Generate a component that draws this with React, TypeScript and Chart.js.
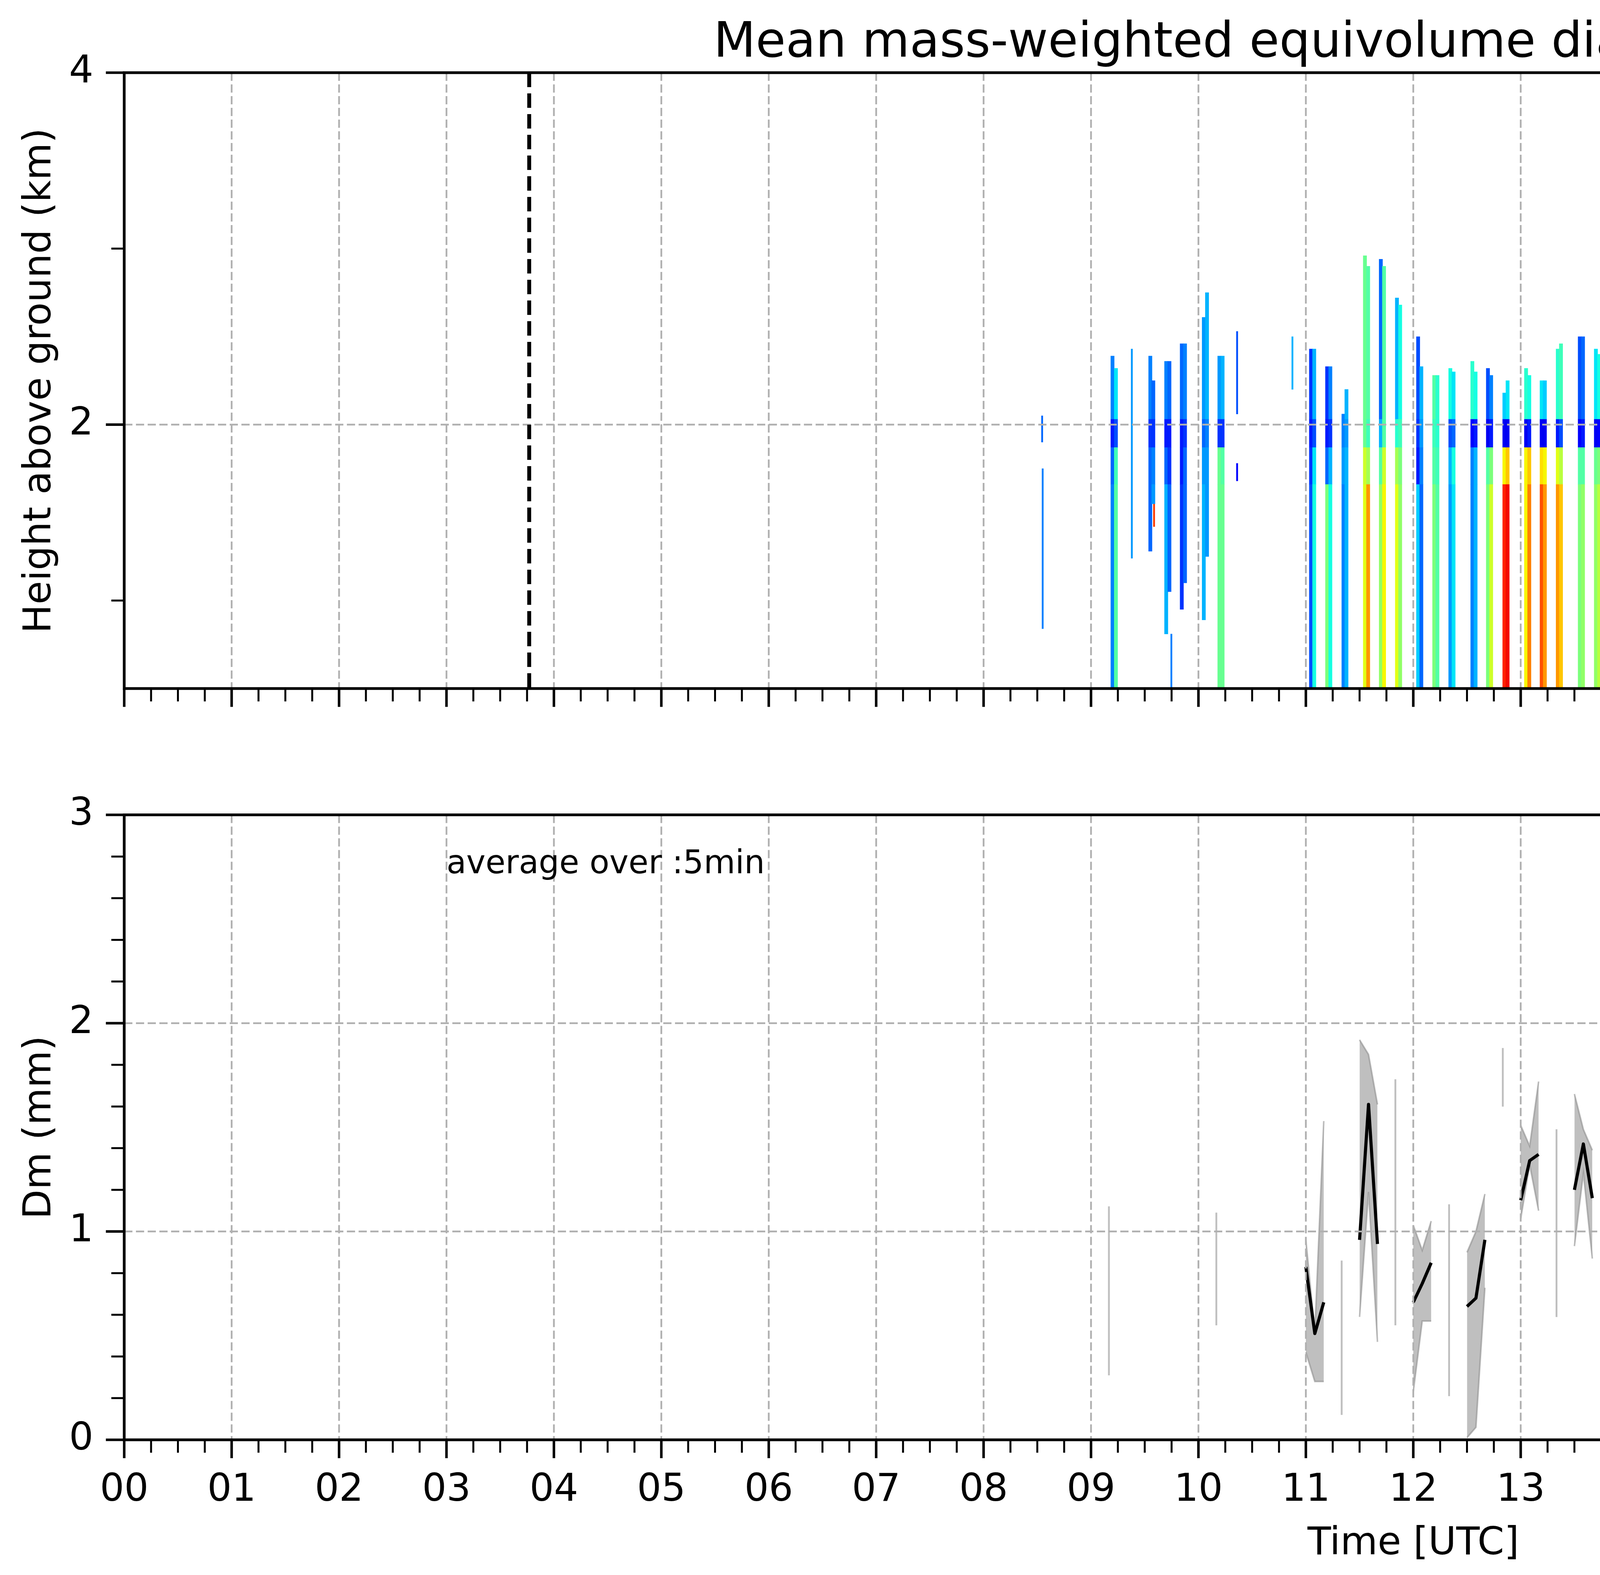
import React, { useEffect, useRef } from 'react';
import { Chart, registerables } from 'chart.js';

Chart.register(...registerables);

const FONT = 'DejaVu Sans';
const W = 7442;
const H = 4031;
const PLOT_LEFT = 318;
const PLOT_RIGHT = 6918;
const TOP_H = 1900;
const BOT_H = H - TOP_H;

// ---------------- data ----------------
const chartTitle = 'Mean mass-weighted equivolume diameter on 20250730';
const hourLabels = ['00', '01', '02', '03', '04', '05', '06', '07', '08', '09', '10', '11',
  '12', '13', '14', '15', '16', '17', '18', '19', '20', '21', '22', '23'];
const heightTicks = [2, 4];
const heightMinorTicks = [1, 3];
const dmTicks = [0, 1, 2, 3];
const cbarTicks = [0, 0.4, 0.8, 1.2, 1.6, 2.0];
const DM_MAX = 2.0;
const HEIGHT_MIN = 0.5;
const HEIGHT_MAX = 4;
const DM_AXIS_MAX = 3;

// dashed black markers (UTC hours) and shaded period
const dayMarkers = [3.77, 18.88];
const shadeStart = 15.39;
const shadeEnd = 24;

// layer boundaries inside each profile column (km)
const MELT_TOP = 2.03;
const MELT_BOTTOM = 1.87;
const TRANS_BOTTOM = 1.66;

// profile columns (time in UTC hours)
const colTime = [
  9.200, 9.232, 9.552, 9.580, 9.700, 9.730, 9.845, 9.875, 10.050, 10.080,
  10.195, 10.225, 11.048, 11.078, 11.198, 11.228, 11.350, 11.378, 11.550, 11.580,
  11.698, 11.728, 11.848, 11.878, 12.045, 12.075, 12.195, 12.225, 12.345, 12.375,
  12.550, 12.580, 12.695, 12.725, 12.848, 12.878, 13.050, 13.080, 13.195, 13.225,
  13.345, 13.375, 13.550, 13.580, 13.700, 13.730, 13.845, 13.875, 14.070, 14.350,
  14.380, 14.555, 14.585, 14.695, 14.725, 14.850, 14.880, 15.055, 15.085, 15.225];
const colTop = [
  2.39, 2.32, 2.39, 2.25, 2.36, 2.36, 2.46, 2.46, 2.61, 2.75,
  2.39, 2.39, 2.43, 2.43, 2.33, 2.33, 2.06, 2.20, 2.96, 2.90,
  2.94, 2.90, 2.72, 2.68, 2.50, 2.33, 2.28, 2.28, 2.32, 2.30,
  2.36, 2.30, 2.32, 2.28, 2.18, 2.25, 2.32, 2.28, 2.25, 2.25,
  2.43, 2.46, 2.50, 2.50, 2.43, 2.40, 2.61, 2.55, 1.78, 2.61,
  2.55, 2.53, 2.61, 2.65, 2.75, 2.68, 2.60, 2.86, 2.57, 2.43];
const colBottom = [
  0.50, 0.50, 1.28, 1.55, 0.81, 1.05, 0.95, 1.10, 0.89, 1.25,
  0.50, 0.50, 0.50, 0.50, 0.50, 0.50, 0.50, 0.50, 0.50, 0.50,
  0.50, 0.50, 0.50, 0.50, 0.50, 0.50, 0.50, 0.50, 0.50, 0.50,
  0.50, 0.50, 0.50, 0.50, 0.50, 0.50, 0.50, 0.50, 0.50, 0.50,
  0.50, 0.50, 0.50, 0.50, 0.50, 0.50, 1.28, 0.84, 0.84, 0.50,
  0.50, 0.50, 0.50, 0.50, 0.50, 0.50, 0.50, 0.50, 1.30, 2.14];
const colDmUpper = [
  0.50, 0.70, 0.50, 0.45, 0.50, 0.45, 0.45, 0.50, 0.55, 0.60,
  0.55, 0.60, 0.35, 0.60, 0.35, 0.50, 0.50, 0.60, 0.95, 0.90,
  0.45, 0.90, 0.60, 0.75, 0.40, 0.60, 0.90, 0.80, 0.75, 0.70,
  0.80, 0.75, 0.40, 0.50, 0.65, 0.70, 0.80, 0.75, 0.70, 0.65,
  0.80, 0.85, 0.40, 0.45, 0.70, 0.75, 0.35, 0.45, null, 0.35,
  0.50, 0.65, 0.60, 0.55, 0.60, 0.65, 0.70, 0.60, 0.45, 0.45];
const colDmMelt = [
  0.30, 0.40, 0.35, 0.35, 0.30, 0.30, 0.30, 0.35, 0.45, 0.50,
  0.35, 0.35, 0.30, 0.40, 0.30, 0.35, 0.50, 0.55, 0.95, 0.85,
  0.60, 0.90, 0.80, 0.85, 0.35, 0.55, 0.85, 0.80, 0.40, 0.45,
  0.25, 0.30, 0.20, 0.30, 0.20, 0.20, 0.20, 0.30, 0.20, 0.20,
  0.30, 0.40, 0.25, 0.30, 0.20, 0.25, 0.25, 0.30, null, 0.25,
  0.30, 0.60, 0.65, 0.30, 0.35, 0.45, 0.50, 0.40, 0.30, null];
const colDmTrans = [
  0.45, 0.85, 0.45, 0.50, 0.45, 0.35, 0.30, 0.45, 0.55, 0.55,
  0.95, 0.90, 0.35, 0.70, 0.45, 0.60, 0.55, 0.60, 1.20, 1.10,
  0.90, 1.20, 1.10, 1.00, 0.30, 0.50, 0.90, 0.85, 0.60, 0.75,
  0.50, 0.60, 0.90, 1.00, 1.30, 1.40, 1.30, 1.40, 1.35, 1.30,
  1.25, 1.15, 0.90, 0.90, 0.95, 1.00, 0.35, 0.45, 0.40, 0.35,
  0.45, 0.70, 0.75, 0.40, 0.50, 0.85, 0.90, 0.45, 0.40, null];
const colDmLower = [
  0.50, 0.90, 0.45, 0.55, 0.60, 0.45, 0.35, 0.45, 0.60, 0.55,
  0.95, 0.95, 0.40, 0.75, 1.00, 0.75, 0.50, 0.60, 1.25, 1.50,
  1.05, 1.30, 1.25, 1.05, 0.65, 0.45, 1.00, 0.90, 0.55, 0.70,
  0.50, 0.60, 1.00, 1.20, 1.75, 1.80, 1.30, 1.55, 1.65, 1.50,
  1.50, 1.40, 1.00, 1.05, 1.05, 1.15, 0.40, 0.50, 0.40, 0.40,
  0.35, 0.75, 0.80, 0.45, 0.50, 0.90, 1.15, 0.50, 0.45, null];

// thin isolated returns
const fleckTime = [8.545, 8.550, 9.380, 9.587, 9.748, 10.360, 10.360, 10.875, 14.060, 14.080, 14.210, 14.350, 15.200, 15.200];
const fleckBottom = [1.90, 0.84, 1.24, 1.42, 0.50, 2.06, 1.68, 2.20, 2.18, 0.50, 2.22, 0.50, 1.31, 0.50];
const fleckTop = [2.05, 1.75, 2.43, 1.73, 0.81, 2.53, 1.78, 2.50, 2.75, 0.68, 2.64, 0.70, 2.79, 1.89];
const fleckDm = [0.45, 0.50, 0.55, 1.70, 0.50, 0.40, 0.25, 0.60, 0.55, 0.05, 0.45, 0.05, 0.55, 0.45];

// 5-minute averages (lower panel)
const avgTime = ['09:10', '10:10', '11:00', '11:05', '11:10', '11:20', '11:30', '11:35', '11:40', '11:50',
  '12:00', '12:05', '12:10', '12:20', '12:30', '12:35', '12:40', '12:50', '13:00', '13:05',
  '13:10', '13:20', '13:30', '13:35', '13:40', '14:00', '14:05', '14:20', '14:30', '14:35',
  '14:40', '14:50', '15:00', '15:05', '15:10'];
const avgMean = [null, null, 0.83, 0.51, 0.66, null, 0.96, 1.61, 0.94, null,
  0.66, 0.75, 0.85, null, 0.64, 0.68, 0.96, null, 1.15, 1.34,
  1.37, null, 1.20, 1.42, 1.16, 0.61, 0.47, null, 0.75, 0.82,
  0.61, null, 0.56, 0.70, 0.85];
const avgMin = [0.31, 0.55, 0.42, 0.28, 0.28, 0.12, 0.59, 1.19, 0.47, 0.55,
  0.23, 0.57, 0.57, 0.21, 0.01, 0.06, 0.73, 1.60, 1.06, 1.32,
  1.10, 0.59, 0.93, 1.28, 0.87, 0.61, 0.09, 0.00, 0.56, 0.71,
  0.41, 0.68, 0.28, 0.44, 0.85];
const avgMax = [1.12, 1.09, 0.96, 0.52, 1.53, 0.86, 1.92, 1.85, 1.61, 1.73,
  1.03, 0.91, 1.05, 1.13, 0.90, 1.00, 1.18, 1.88, 1.51, 1.41,
  1.72, 1.49, 1.66, 1.49, 1.39, 0.64, 0.67, 0.99, 1.06, 1.19,
  1.09, 1.33, 0.76, 0.89, 0.89];
const avgNote = 'average over :5min';
const avgNoteX = 3.0;
const avgNoteY = 2.72;

// ---------------- helpers ----------------
function jet(v: number): string {
  const t = Math.min(1, Math.max(0, v));
  const r = t < 0.35 ? 0 : t < 0.66 ? (t - 0.35) / 0.31 : t < 0.89 ? 1 : 1 - (0.5 * (t - 0.89)) / 0.11;
  const g = t < 0.125 ? 0 : t < 0.375 ? (t - 0.125) / 0.25 : t < 0.64 ? 1 : t < 0.91 ? 1 - (t - 0.64) / 0.27 : 0;
  const b = t < 0.11 ? 0.5 + (0.5 * t) / 0.11 : t < 0.34 ? 1 : t < 0.65 ? 1 - (t - 0.34) / 0.31 : 0;
  return `rgb(${Math.round(r * 255)},${Math.round(g * 255)},${Math.round(b * 255)})`;
}

function columnSegments() {
  const segs: any[] = [];
  colTime.forEach((t, i) => {
    const top = colTop[i];
    const bot = colBottom[i];
    const layers: [number, number, number | null][] = [
      [MELT_TOP, top, colDmUpper[i]],
      [MELT_BOTTOM, MELT_TOP, colDmMelt[i]],
      [TRANS_BOTTOM, MELT_BOTTOM, colDmTrans[i]],
      [bot, TRANS_BOTTOM, colDmLower[i]],
    ];
    layers.forEach(([lo, hi, dm]) => {
      const a = Math.max(lo, bot);
      const b = Math.min(hi, top);
      if (b > a && dm != null) segs.push({ x: t, y: [a, b], dm });
    });
  });
  return segs;
}

function fleckSegments() {
  return fleckTime.map((t, i) => ({ x: t, y: [fleckBottom[i], fleckTop[i]], dm: fleckDm[i] }));
}

const avgHours = avgTime.map((s) => {
  const [h, m] = s.split(':').map(Number);
  return h + m / 60;
});

function withBreaks(vals: (number | null)[]) {
  const pts: any[] = [];
  avgHours.forEach((t, i) => {
    if (i > 0 && t - avgHours[i - 1] > 0.1) pts.push({ x: (t + avgHours[i - 1]) / 2, y: null });
    pts.push({ x: t, y: vals[i] });
  });
  return pts;
}

function isolatedRanges() {
  const out: any[] = [];
  avgHours.forEach((t, i) => {
    const prevGap = i === 0 ? Infinity : t - avgHours[i - 1];
    const nextGap = i === avgHours.length - 1 ? Infinity : avgHours[i + 1] - t;
    if (prevGap > 0.1 && nextGap > 0.1) out.push({ x: t, y: [avgMin[i], avgMax[i]] });
  });
  return out;
}

const hourValues = hourLabels.map((_, i) => i);
const xMajorTicks = [...hourValues, 24];
const xMinorTicks: number[] = [];
for (let q = 1; q < 96; q++) if (q % 4 !== 0) xMinorTicks.push(q / 4);
const dmMinorTicks: number[] = [];
for (let k = 1; k < 15; k++) if (k % 5 !== 0) dmMinorTicks.push(k / 5);

function line(ctx: CanvasRenderingContext2D, x0: number, y0: number, x1: number, y1: number) {
  ctx.beginPath();
  ctx.moveTo(x0, y0);
  ctx.lineTo(x1, y1);
  ctx.stroke();
}

const framePlugin = {
  id: 'frame',
  beforeDatasetsDraw(chart: any, _a: any, o: any) {
    if (!o || !o.shade) return;
    const { ctx, chartArea: ca, scales } = chart;
    const x0 = scales.x.getPixelForValue(o.shade[0]);
    const x1 = scales.x.getPixelForValue(o.shade[1]);
    ctx.save();
    ctx.fillStyle = '#d9d9d9';
    ctx.fillRect(x0, ca.top, x1 - x0, ca.bottom - ca.top);
    ctx.restore();
  },
  afterDatasetsDraw(chart: any, _a: any, o: any) {
    if (!o) return;
    const { ctx, chartArea: ca, scales } = chart;
    const xs = scales.x;
    const ys = scales.y;
    ctx.save();
    ctx.beginPath();
    ctx.rect(ca.left, ca.top, ca.right - ca.left, ca.bottom - ca.top);
    ctx.clip();
    ctx.strokeStyle = '#b0b0b0';
    ctx.lineWidth = 4.5;
    ctx.setLineDash([21, 9]);
    (o.gridX || []).forEach((v: number) => {
      const p = xs.getPixelForValue(v);
      line(ctx, p, ca.top, p, ca.bottom);
    });
    (o.gridY || []).forEach((v: number) => {
      const p = ys.getPixelForValue(v);
      line(ctx, ca.left, p, ca.right, p);
    });
    if (o.markers) {
      ctx.strokeStyle = '#000';
      ctx.lineWidth = 10;
      ctx.setLineDash([37, 16]);
      o.markers.forEach((v: number) => {
        const p = xs.getPixelForValue(v);
        line(ctx, p, ca.top, p, ca.bottom);
      });
    }
    ctx.restore();

    ctx.save();
    ctx.setLineDash([]);
    ctx.strokeStyle = '#000';
    ctx.lineWidth = 7;
    ctx.strokeRect(ca.left, ca.top, ca.right - ca.left, ca.bottom - ca.top);
    // x ticks
    ctx.lineWidth = 6.5;
    xMajorTicks.forEach((v) => {
      const p = xs.getPixelForValue(v);
      line(ctx, p, ca.bottom, p, ca.bottom + 47);
    });
    ctx.lineWidth = 5;
    xMinorTicks.forEach((v) => {
      const p = xs.getPixelForValue(v);
      line(ctx, p, ca.bottom, p, ca.bottom + 33);
    });
    // y ticks
    ctx.lineWidth = 6.5;
    (o.yMajor || []).forEach((v: number) => {
      const p = ys.getPixelForValue(v);
      line(ctx, ca.left - 47, p, ca.left, p);
    });
    ctx.lineWidth = 5;
    (o.yMinor || []).forEach((v: number) => {
      const p = ys.getPixelForValue(v);
      line(ctx, ca.left - 33, p, ca.left, p);
    });
    ctx.fillStyle = '#000';
    if (o.title) {
      ctx.font = `125px "${FONT}"`;
      ctx.textAlign = 'center';
      ctx.textBaseline = 'alphabetic';
      ctx.fillText(o.title, (ca.left + ca.right) / 2, 145);
    }
    if (o.note) {
      ctx.font = `83px "${FONT}"`;
      ctx.textAlign = 'left';
      ctx.textBaseline = 'alphabetic';
      ctx.fillText(o.note.text, xs.getPixelForValue(o.note.x), ys.getPixelForValue(o.note.y));
    }
    ctx.restore();
  },
};

const cbarPlugin = {
  id: 'cbar',
  afterDraw(chart: any, _a: any, o: any) {
    if (!o || !o.label) return;
    const { ctx, chartArea: ca } = chart;
    ctx.save();
    ctx.strokeStyle = '#000';
    ctx.lineWidth = 5;
    ctx.strokeRect(ca.left, ca.top, ca.right - ca.left, ca.bottom - ca.top);
    ctx.fillStyle = '#000';
    ctx.font = `80px "${FONT}"`;
    ctx.translate(447, (ca.top + ca.bottom) / 2);
    ctx.rotate(-Math.PI / 2);
    ctx.textAlign = 'center';
    ctx.textBaseline = 'middle';
    ctx.fillText(o.label, 0, 0);
    ctx.restore();
  },
};

const hiddenGrid = { display: false, drawTicks: false };
const tickFont = { family: FONT, size: 98 };

function topConfig(): any {
  const color = (c: any) => (c.raw ? jet(c.raw.dm / DM_MAX) : '#000');
  return {
    type: 'bar',
    data: {
      datasets: [
        { data: columnSegments(), backgroundColor: color, barThickness: 9, grouped: false, borderWidth: 0, borderSkipped: false },
        { data: fleckSegments(), backgroundColor: color, barThickness: 4, grouped: false, borderWidth: 0, borderSkipped: false },
      ],
    },
    options: {
      responsive: false,
      animation: false,
      devicePixelRatio: 1,
      layout: { padding: { top: 186, right: W - PLOT_RIGHT, left: 0, bottom: 0 } },
      plugins: {
        legend: { display: false },
        tooltip: { enabled: false },
        frame: {
          gridX: hourValues.slice(1),
          gridY: [2],
          yMajor: heightTicks,
          yMinor: heightMinorTicks,
          markers: dayMarkers,
          shade: [shadeStart, shadeEnd],
          title: chartTitle,
        },
      },
      scales: {
        x: {
          type: 'linear', min: 0, max: 24, offset: false,
          grid: { ...hiddenGrid, offset: false }, border: { display: false },
          ticks: { display: false },
          afterFit: (s: any) => { s.height = TOP_H - 1784; },
        },
        y: {
          type: 'linear', min: HEIGHT_MIN, max: HEIGHT_MAX,
          grid: hiddenGrid, border: { display: false },
          afterBuildTicks: (s: any) => { s.ticks = heightTicks.map((v) => ({ value: v })); },
          ticks: { font: tickFont, color: '#000', padding: 79, callback: (v: any) => String(v) },
          title: { display: true, text: 'Height above ground (km)', font: tickFont, color: '#000', padding: { top: 45, bottom: 0 } },
          afterFit: (s: any) => { s.width = PLOT_LEFT; },
        },
      },
    },
    plugins: [framePlugin],
  };
}

function botConfig(): any {
  const edge = 'rgba(128,128,128,0.5)';
  return {
    type: 'line',
    data: {
      datasets: [
        { data: withBreaks(avgMean), borderColor: '#000', borderWidth: 8, pointRadius: 0, fill: false, tension: 0, spanGaps: false, borderJoinStyle: 'round' },
        { data: withBreaks(avgMax), borderColor: edge, borderWidth: 4, pointRadius: 0, fill: false, tension: 0, spanGaps: false },
        { data: withBreaks(avgMin), borderColor: edge, borderWidth: 4, pointRadius: 0, fill: '-1', backgroundColor: 'rgba(128,128,128,0.5)', tension: 0, spanGaps: false },
        { type: 'bar', data: isolatedRanges(), backgroundColor: 'rgba(128,128,128,0.5)', barThickness: 4, grouped: false, borderWidth: 0 },
      ],
    },
    options: {
      responsive: false,
      animation: false,
      devicePixelRatio: 1,
      layout: { padding: { top: 2085.5 - TOP_H, right: W - PLOT_RIGHT, left: 0, bottom: 0 } },
      plugins: {
        legend: { display: false },
        tooltip: { enabled: false },
        frame: {
          gridX: hourValues.slice(1),
          gridY: [1, 2],
          yMajor: dmTicks,
          yMinor: dmMinorTicks,
          note: { text: avgNote, x: avgNoteX, y: avgNoteY },
        },
      },
      scales: {
        x: {
          type: 'linear', min: 0, max: 24, offset: false,
          grid: { ...hiddenGrid, offset: false }, border: { display: false },
          afterBuildTicks: (s: any) => { s.ticks = hourValues.map((v) => ({ value: v })); },
          ticks: { font: tickFont, color: '#000', padding: 72, autoSkip: false, maxRotation: 0, minRotation: 0, callback: (v: any) => hourLabels[Math.round(v)] },
          title: { display: true, text: 'Time [UTC]', font: tickFont, color: '#000', padding: { top: 0, bottom: 20 } },
          afterFit: (s: any) => { s.height = BOT_H - (3685 - TOP_H); },
        },
        y: {
          type: 'linear', min: 0, max: DM_AXIS_MAX,
          grid: hiddenGrid, border: { display: false },
          afterBuildTicks: (s: any) => { s.ticks = dmTicks.map((v) => ({ value: v })); },
          ticks: { font: tickFont, color: '#000', padding: 79, callback: (v: any) => String(v) },
          title: { display: true, text: 'Dm (mm)', font: tickFont, color: '#000', padding: { top: 45, bottom: 0 } },
          afterFit: (s: any) => { s.width = PLOT_LEFT; },
        },
      },
    },
    plugins: [framePlugin],
  };
}

function cbarConfig(): any {
  return {
    type: 'bar',
    data: {
      labels: ['Dm'],
      datasets: [{
        data: [[0, DM_MAX]],
        borderWidth: 0,
        barPercentage: 1,
        categoryPercentage: 1,
        backgroundColor: (c: any) => {
          const ch = c.chart;
          const a = ch.chartArea;
          if (!a) return 'transparent';
          const y0 = ch.scales.y.getPixelForValue(0);
          const y1 = ch.scales.y.getPixelForValue(DM_MAX);
          const g = ch.ctx.createLinearGradient(0, y0, 0, y1);
          for (let i = 0; i <= 200; i++) g.addColorStop(i / 200, jet(i / 200));
          return g;
        },
      }],
    },
    options: {
      responsive: false,
      animation: false,
      devicePixelRatio: 1,
      layout: { padding: { left: 93, top: 184, bottom: TOP_H - 1785, right: 0 } },
      plugins: { legend: { display: false }, tooltip: { enabled: false }, cbar: { label: 'Dm (mm)' } },
      scales: {
        x: { display: false },
        y: {
          position: 'right', min: 0, max: DM_MAX,
          afterBuildTicks: (s: any) => { s.ticks = cbarTicks.map((v) => ({ value: v })); },
          ticks: { font: { family: FONT, size: 78 }, color: '#000', padding: 29, callback: (v: any) => Number(v).toFixed(1) },
          grid: { display: true, drawOnChartArea: false, drawTicks: true, tickLength: 22, tickWidth: 5, tickColor: '#000' },
          border: { display: true, color: '#000', width: 5 },
          afterFit: (s: any) => { s.width = 338; },
        },
      },
    },
    plugins: [cbarPlugin],
  };
}

export default function App() {
  const topRef = useRef<HTMLCanvasElement>(null);
  const botRef = useRef<HTMLCanvasElement>(null);
  const cbRef = useRef<HTMLCanvasElement>(null);

  useEffect(() => {
    const charts = [
      new Chart(topRef.current as HTMLCanvasElement, topConfig()),
      new Chart(botRef.current as HTMLCanvasElement, botConfig()),
      new Chart(cbRef.current as HTMLCanvasElement, cbarConfig()),
    ];
    return () => charts.forEach((c) => c.destroy());
  }, []);

  return (
    <div style={{ position: 'relative', width: W, height: H, overflow: 'hidden', background: '#fff' }}>
      <style>{'html,body{margin:0;padding:0;overflow:hidden;background:#fff}'}</style>
      <canvas ref={topRef} width={W} height={TOP_H} style={{ position: 'absolute', left: 0, top: 0, width: W, height: TOP_H }} />
      <canvas ref={botRef} width={W} height={BOT_H} style={{ position: 'absolute', left: 0, top: TOP_H, width: W, height: BOT_H }} />
      <canvas ref={cbRef} width={542} height={TOP_H} style={{ position: 'absolute', left: 6900, top: 0, width: 542, height: TOP_H }} />
    </div>
  );
}
